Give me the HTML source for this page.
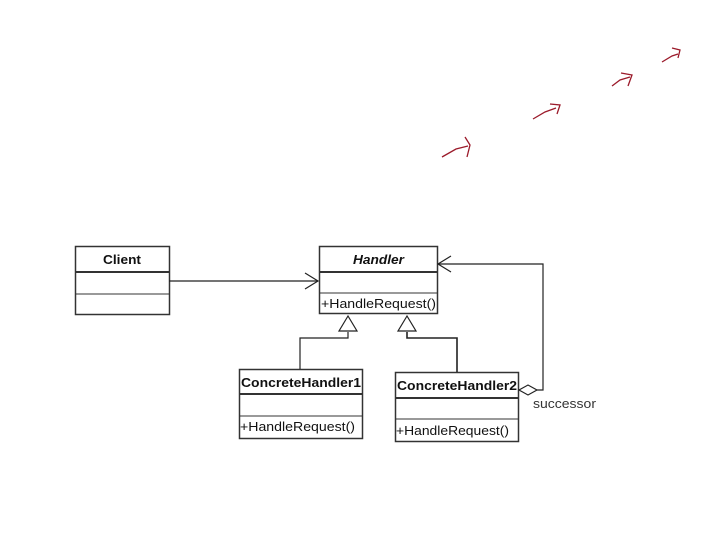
<!DOCTYPE html>
<html><head><meta charset="utf-8"><style>
body{margin:0;background:#fff;width:720px;height:540px;overflow:hidden}
svg{display:block}
text{font-family:"Liberation Sans",sans-serif;font-size:13px;fill:#111}
</style></head><body>
<svg width="720" height="540" viewBox="0 0 720 540">
<g fill="none" stroke="#9b1a2a" stroke-width="1.3">
<path d="M442,157 L456,149 L468,146"/><path d="M465,137 L470,145 L467,157"/>
<path d="M533,119 L545,112 L556,108"/><path d="M550,104 L560,105 L557,114"/>
<path d="M612,86 L620,80 L630,77"/><path d="M621,73 L632,75 L628,86"/>
<path d="M662,62 L672,56 L678,54"/><path d="M672,48 L680,50 L678,58"/>
</g>
<g fill="#fff" stroke="#333" stroke-width="1.5">
<rect x="75.5" y="246.5" width="94" height="68"/>
<rect x="319.5" y="246.5" width="118" height="67"/>
<rect x="239.5" y="369.5" width="123" height="69"/>
<rect x="395.5" y="372.5" width="123" height="69"/>
</g>
<g stroke="#333" stroke-width="2">
<line x1="75" y1="272" x2="169" y2="272"/>
<line x1="319" y1="272" x2="437" y2="272"/>
<line x1="239" y1="394" x2="362" y2="394"/>
<line x1="395" y1="398" x2="518" y2="398"/>
</g>
<g stroke="#333" stroke-width="1">
<line x1="75" y1="294" x2="169" y2="294"/>
<line x1="319" y1="293" x2="437" y2="293"/>
<line x1="239" y1="416" x2="362" y2="416"/>
<line x1="395" y1="419" x2="518" y2="419"/>
</g>
<g fill="none" stroke="#222" stroke-width="1.2">
<line x1="169" y1="281" x2="318" y2="281"/>
<path d="M305,273 L318,281 L305,289"/>
<path d="M348,332 L348,338 L300,338 L300,369"/>
<path d="M407,332 L407,338 L457,338 L457,372" stroke-width="1.6"/>
<path d="M537,390 L543,390 L543,264 L438,264"/>
<path d="M451,256 L438,264 L451,272"/>
</g>
<g fill="#fff" stroke="#222" stroke-width="1.2">
<path d="M348,316 L339,331 L357,331 Z"/>
<path d="M407,316 L398,331 L416,331 Z"/>
<path d="M519,390 L528,385 L537,390 L528,395 Z"/>
</g>
<text x="103" y="264" font-weight="bold" textLength="38" lengthAdjust="spacingAndGlyphs">Client</text>
<text x="353" y="264" font-weight="bold" font-style="italic" textLength="51" lengthAdjust="spacingAndGlyphs">Handler</text>
<text x="321" y="308" textLength="115" lengthAdjust="spacingAndGlyphs">+HandleRequest()</text>
<text x="241" y="387" font-weight="bold" textLength="120" lengthAdjust="spacingAndGlyphs">ConcreteHandler1</text>
<text x="240" y="431" textLength="115" lengthAdjust="spacingAndGlyphs">+HandleRequest()</text>
<text x="397" y="390" font-weight="bold" textLength="120" lengthAdjust="spacingAndGlyphs">ConcreteHandler2</text>
<text x="396" y="435" textLength="113" lengthAdjust="spacingAndGlyphs">+HandleRequest()</text>
<text x="533" y="408" style="fill:#333" textLength="63" lengthAdjust="spacingAndGlyphs">successor</text>
</svg>
</body></html>
